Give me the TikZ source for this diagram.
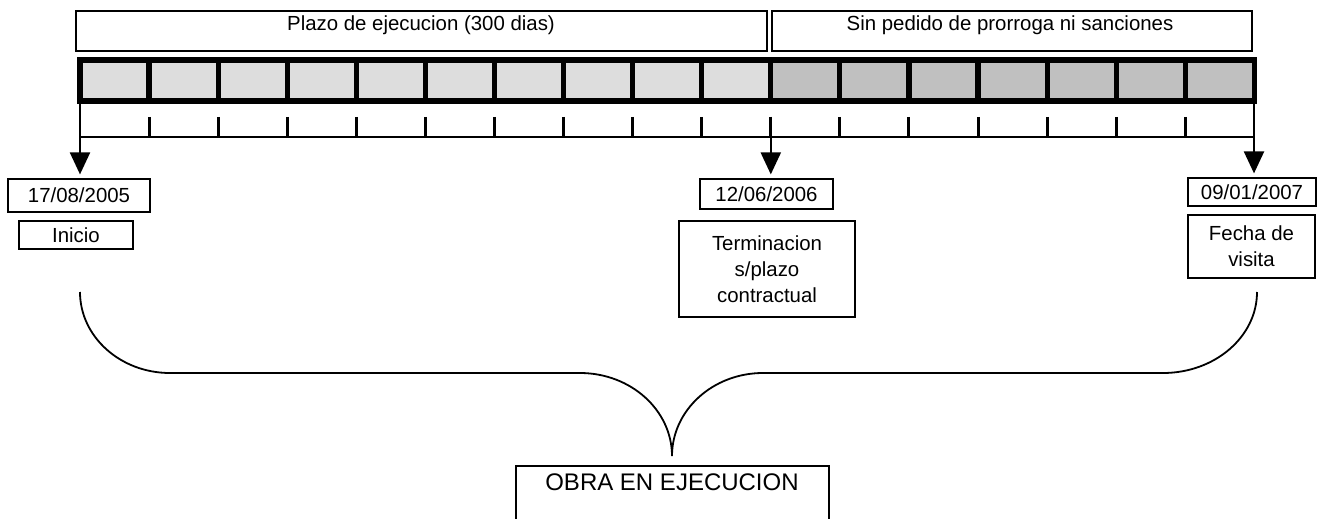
\documentclass[tikz,border=0pt]{standalone}
\usepackage{fontspec}
\setmainfont{Liberation Sans}
\usetikzlibrary{arrows.meta}
\definecolor{celldot}{RGB}{221,221,221}
\definecolor{cellgrey}{RGB}{192,192,192}
\tikzset{
	datebox/.style={draw, line width=0.6pt, inner sep=0pt, align=center},
	flecha/.style={-{Triangle[width=10pt,length=11pt]}, line width=1.1pt, shorten >=2pt},
}

\begin{document}
\begin{tikzpicture}[x=0.5pt, y=-0.5pt, font=\fontsize{10.2}{13}\selectfont]
	\useasboundingbox (0,0) rectangle (1322,519);
	
	% cajas de arriba
	\draw[line width=0.7pt] (76,11) rectangle (767,51);
	\draw[line width=0.7pt] (772,11) rectangle (1252,51);
	\node[anchor=base] (plazo) at (421,31) {Plazo de ejecucion (300 dias)};
	\node[anchor=base] (sinped) at (1010,31) {Sin pedido de prorroga ni sanciones};
	
	% barra
	\foreach \i in {0,...,9} \fill[celldot] ({80+69.08*\i},60) rectangle ++(69.08,41);
	\foreach \i in {10,...,16} \fill[cellgrey] ({80+69.08*\i},60) rectangle ++(69.08,41);
	\draw[line width=2.6pt] (80,60) rectangle (1254.4,101);
	\foreach \i in {1,...,16} \draw[line width=2.6pt] ({80+69.08*\i},60) -- ++(0,41);
	
	% escala
	\draw[line width=1.2pt] (80,137) -- (1254,137);
	\foreach \i in {1,...,16} \draw[line width=1.5pt] ({80+69.08*\i},117) -- ++(0,20);
	
	% fechas
	\node[datebox, minimum width=71pt, minimum height=16.5pt] (d1) at (79,195.5) {17/08/2005};
	\node[datebox, minimum width=57pt, minimum height=14pt] (inicio) at (76,235) {Inicio};
	\node[datebox, minimum width=66.5pt, minimum height=15pt] (d2) at (766.5,194) {12/06/2006};
	\node[datebox, minimum width=88pt, minimum height=48pt] (term) at (767,269) {Terminacion\\s/plazo\\contractual};
	\node[datebox, minimum width=64pt, minimum height=14pt] (d3) at (1252,192) {09/01/2007};
	\node[datebox, minimum width=63.5pt, minimum height=31.5pt] (fecha) at (1251.5,246.5) {Fecha de\\visita};
	
	% flechas
	\coordinate (a1) at (80,101);
	\coordinate (a2) at (770.8,117);
	\coordinate (a3) at (1254,101);
	\draw[flecha] (a1) -- (a1 |- d1.north);
	\draw[flecha] (a2) -- (a2 |- d2.north);
	\draw[flecha] (a3) -- (a3 |- d3.north);
	
	% llave
	\draw[line width=0.9pt] (80,292) .. controls (80,336.7) and (120.3,373) .. (170,373) -- (580,373)
		.. controls (630.8,373) and (672,410.2) .. (672,456)
		.. controls (672,410.2) and (712.8,373) .. (763,373) -- (1163,373)
		.. controls (1214.9,373) and (1257,336.7) .. (1257,292);
	
	% obra
	\draw[line width=0.7pt] (516,519) |- (829,466) -- (829,519);
	\node[font=\fontsize{12}{14}\selectfont] (obra) at (672,482.5) {OBRA EN EJECUCION};
	
\end{tikzpicture}
\end{document}
